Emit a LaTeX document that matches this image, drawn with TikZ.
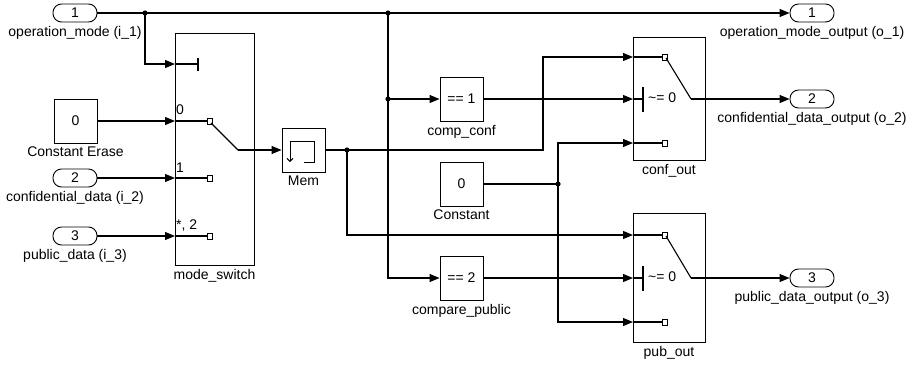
\documentclass[tikz,border=0pt]{standalone}
\usepackage{fontspec}
\setmainfont{Liberation Sans}
\usetikzlibrary{arrows.meta}

\tikzset{
  blk/.style={draw, line width=0.9pt, minimum width=43pt, minimum height=44pt, inner sep=0pt},
  port/.style={draw, line width=0.9pt, rounded corners=8.5pt, minimum width=44pt, minimum height=18pt, inner sep=0pt},
  wire/.style={line width=1.1pt},
  sig/.style={wire, -{Triangle[length=10pt,width=8pt]}},
  pin/.style={line width=0.8pt, fill=white},
}

\begin{document}
\begin{tikzpicture}[x=1pt, y=-1pt, font=\fontsize{14}{16}\selectfont]
		\useasboundingbox (0,0) rectangle (915,365);
		%%%%% INPORTS %%%%%
		\node[port, label=below:{operation\_mode (i\_1)}] (in1) at (75,13) {1};
		\node[blk, label=below:Constant Erase] (cerase) at (75.5,121) {0};
		\node[port, label=below:{confidential\_data (i\_2)}] (in2) at (75,178) {2};
		\node[port, label=below:{public\_data (i\_3)}] (in3) at (75,236) {3};
		
		%%%%% MODE SWITCH %%%%%
		\node[blk, minimum width=79pt, minimum height=232pt, label=below:mode\_switch] (msw) at (214.5,149) {};
		\coordinate (msw-c) at (175,64);
		\coordinate (msw-0) at (175,121);
		\coordinate (msw-1) at (175,178);
		\coordinate (msw-2) at (175,236);
		\coordinate (msw-o) at (238,150);
		\draw[wire] (msw-c) -- (198,64);
		\draw[wire] (198,58) -- (198,71);
		\foreach \y in {121,178,236} {
			\draw[wire] (175,\y) -- (207,\y);
			\draw[pin] (207,\y-3) rectangle (212,\y+3);
		}
		\draw[wire] (211,123) -- (msw-o);
		\node[anchor=west, inner sep=0pt] at (176,110) {0};
		\node[anchor=west, inner sep=0pt] at (176,168) {1};
		\node[anchor=west, inner sep=0pt] at (176,226) {*, 2};
		
		%%%%% MEMORY %%%%%
		\node[blk, label=below:Mem] (mem) at (303.5,150) {};
		\draw[line width=0.9pt, -{Straight Barb[length=3pt,width=6pt]}] (304,162) -- (314,162) -- (314,141) -- (290,141) -- (290,162);
		
		%%%%% COMPARE %%%%%
		\node[blk, label=below:comp\_conf] (cmp1) at (461.5,99) {== 1};
		\node[blk, label=below:Constant] (cst) at (461.5,184) {0};
		\node[blk, label=below:compare\_public] (cmp2) at (461.5,278) {== 2};
		
		%%%%% OUTPUT SWITCHES %%%%%
		\node[blk, minimum width=72pt, minimum height=123pt, label=below:conf\_out] (cout) at (669,98.5) {};
		\node[blk, minimum width=72pt, minimum height=129pt, label=below:pub\_out] (pout) at (669,277.5) {};
		\coordinate (co-1) at (633,57);
		\coordinate (co-c) at (633,99);
		\coordinate (co-3) at (633,143);
		\coordinate (co-o) at (691,99);
		\coordinate (po-1) at (633,235);
		\coordinate (po-c) at (633,278);
		\coordinate (po-3) at (633,322);
		\coordinate (po-o) at (691,278);
		\foreach \t/\c/\b in {57/99/143, 235/278/322} {
			\draw[wire] (633,\t) -- (662,\t);
			\draw[pin] (662,\t-3) rectangle (667,\t+3);
			\draw[wire] (666,\t+1) -- (691,\c);
			\draw[wire] (633,\c) -- (643,\c);
			\draw[wire] (643,\c-12) -- (643,\c+13);
			\node[anchor=west, inner sep=0pt] at (648,\c-1) {\textasciitilde= 0};
			\draw[wire] (633,\b) -- (662,\b);
			\draw[pin] (662,\b-3) rectangle (667,\b+3);
		}
		
		%%%%% OUTPORTS %%%%%
		\node[port, label=below:{operation\_mode\_output (o\_1)}] (out1) at (812,13) {1};
		\node[port, label=below:{confidential\_data\_output (o\_2)}] (out2) at (812,99) {2};
		\node[port, label=below:{public\_data\_output (o\_3)}] (out3) at (812,278) {3};
		
		%%%%% SIGNALS %%%%%
		\coordinate (j1) at (145,13);
		\coordinate (j2) at (388,13);
		\coordinate (j3) at (347,150);
		\coordinate (j4) at (388,99);
		\coordinate (j5) at (558,184);
		\coordinate (k1) at (543,150);
		\draw[sig] (in1) -- (out1);
		\draw[sig] (j1) |- (msw-c);
		\draw[sig] (cerase) -- (msw-0);
		\draw[sig] (in2) -- (msw-1);
		\draw[sig] (in3) -- (msw-2);
		\draw[sig] (msw-o) -- (mem);
		\draw[sig] (mem) -- (k1) |- (co-1);
		\draw[sig] (j3) |- (po-1);
		\draw[sig] (j2) |- (cmp2);
		\draw[sig] (j4) -- (cmp1);
		\draw[sig] (cmp1) -- (co-c);
		\draw[wire] (cst) -- (j5);
		\draw[sig] (j5) |- (co-3);
		\draw[sig] (j5) |- (po-3);
		\draw[sig] (cmp2) -- (po-c);
		\draw[sig] (co-o) -- (out2);
		\draw[sig] (po-o) -- (out3);
		\foreach \j in {j1,j2,j3,j4,j5}
			\fill (\j) circle (2.6);
	\end{tikzpicture}
\end{document}
